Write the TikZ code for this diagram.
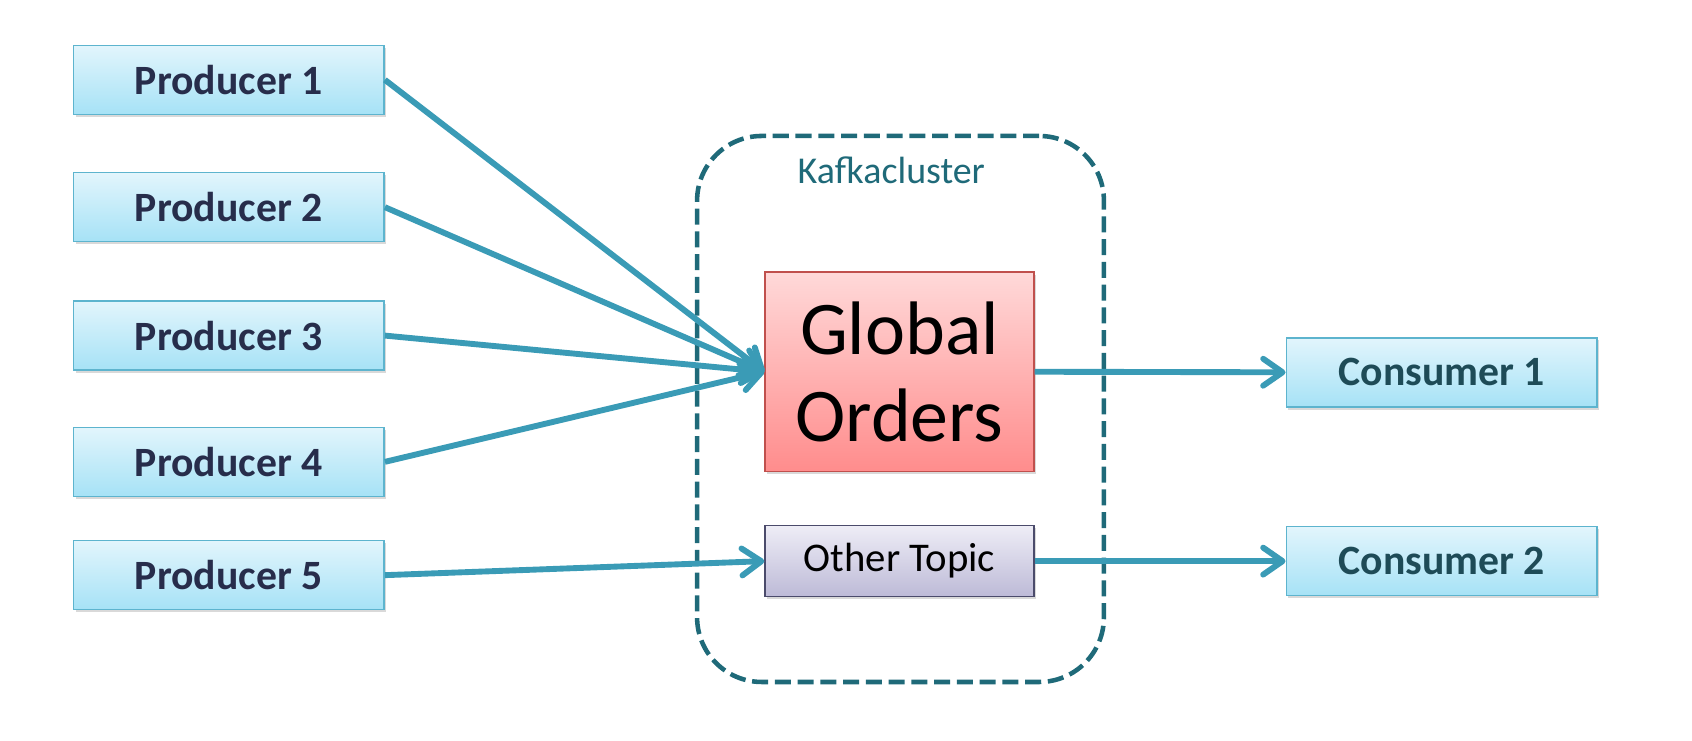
\documentclass[tikz,border=0pt]{standalone}
\usepackage{fontspec}
\setmainfont{Carlito}
\usepackage{xcolor}
\usetikzlibrary{arrows.meta, positioning, shadows}

\definecolor{flow}{HTML}{3A9BB6}
\definecolor{clientline}{HTML}{5DB4CE}
\definecolor{clienttop}{HTML}{E2F5FC}
\definecolor{clientbot}{HTML}{A6E2F6}
\definecolor{prodtext}{HTML}{272D4B}
\definecolor{constext}{HTML}{1E4B57}
\definecolor{clusterline}{HTML}{1F6A79}
\definecolor{topicline}{HTML}{C0504D}
\definecolor{othertop}{HTML}{EEEDF6}
\definecolor{otherbot}{HTML}{BDBAD7}
\definecolor{otherline}{HTML}{4B4B6B}

\begin{document}
\begin{tikzpicture}[
    client/.style={draw=clientline, line width=0.8pt, top color=clienttop, bottom color=clientbot,
        minimum width=5.76cm, minimum height=1.28cm,
        font=\fontsize{22}{26}\selectfont\bfseries,
        drop shadow={shadow xshift=0.4mm, shadow yshift=-0.5mm, opacity=0.3}},
    flowarrow/.style={draw=flow, line width=3.1pt, -{Straight Barb[length=3.6mm, width=5mm, round]}}
]
\useasboundingbox (0,1.09) rectangle (31.36,14.82);

% Kafka cluster frame
\node[draw=clusterline, line width=2.4pt, dash pattern=on 8.5pt off 3.5pt, rounded corners=1.2cm,
      minimum width=7.54cm, minimum height=10.12cm] (cluster) at (16.69,7.24) {};
\node[text=clusterline, font=\fontsize{20}{24}\selectfont] (clabel) at ([xshift=-0.17cm, yshift=-0.68cm]cluster.north) {Kafkacluster};

% Topics
\node[draw=topicline, line width=0.8pt, top color=red!15, bottom color=red!45,
      minimum width=4.98cm, minimum height=3.7cm, align=center,
      font=\fontsize{40}{46}\selectfont,
      drop shadow={shadow xshift=0.4mm, shadow yshift=-0.5mm, opacity=0.3}] (global) at (16.67,7.93) {Global\\Orders};
\node[draw=otherline, line width=0.8pt, top color=othertop, bottom color=otherbot,
      minimum width=4.98cm, minimum height=1.32cm, font=\fontsize{21.5}{25}\selectfont,
      drop shadow={shadow xshift=0.4mm, shadow yshift=-0.5mm, opacity=0.3}] (other) at (16.67,4.42) {Other Topic};

% Producers
\node[client, text=prodtext] (p1) at (4.24,13.34) {Producer 1};
\node[client, text=prodtext] (p2) at (4.24,10.98) {Producer 2};
\node[client, text=prodtext] (p3) at (4.24,8.6) {Producer 3};
\node[client, text=prodtext] (p4) at (4.24,6.26) {Producer 4};
\node[client, text=prodtext] (p5) at (4.24,4.16) {Producer 5};

% Consumers
\node[client, text=constext] (c1) at (26.72,7.92) {Consumer 1};
\node[client, text=constext] (c2) at (26.72,4.42) {Consumer 2};

% Flows
\foreach \p in {p1,p2,p3,p4}
    \draw[flowarrow] (\p.east) -- (global.west);
\draw[flowarrow] (p5.east) -- (other.west);
\draw[flowarrow] (global.east) -- (c1.west);
\draw[flowarrow] (other.east) -- (c2.west);

\end{tikzpicture}
\end{document}
